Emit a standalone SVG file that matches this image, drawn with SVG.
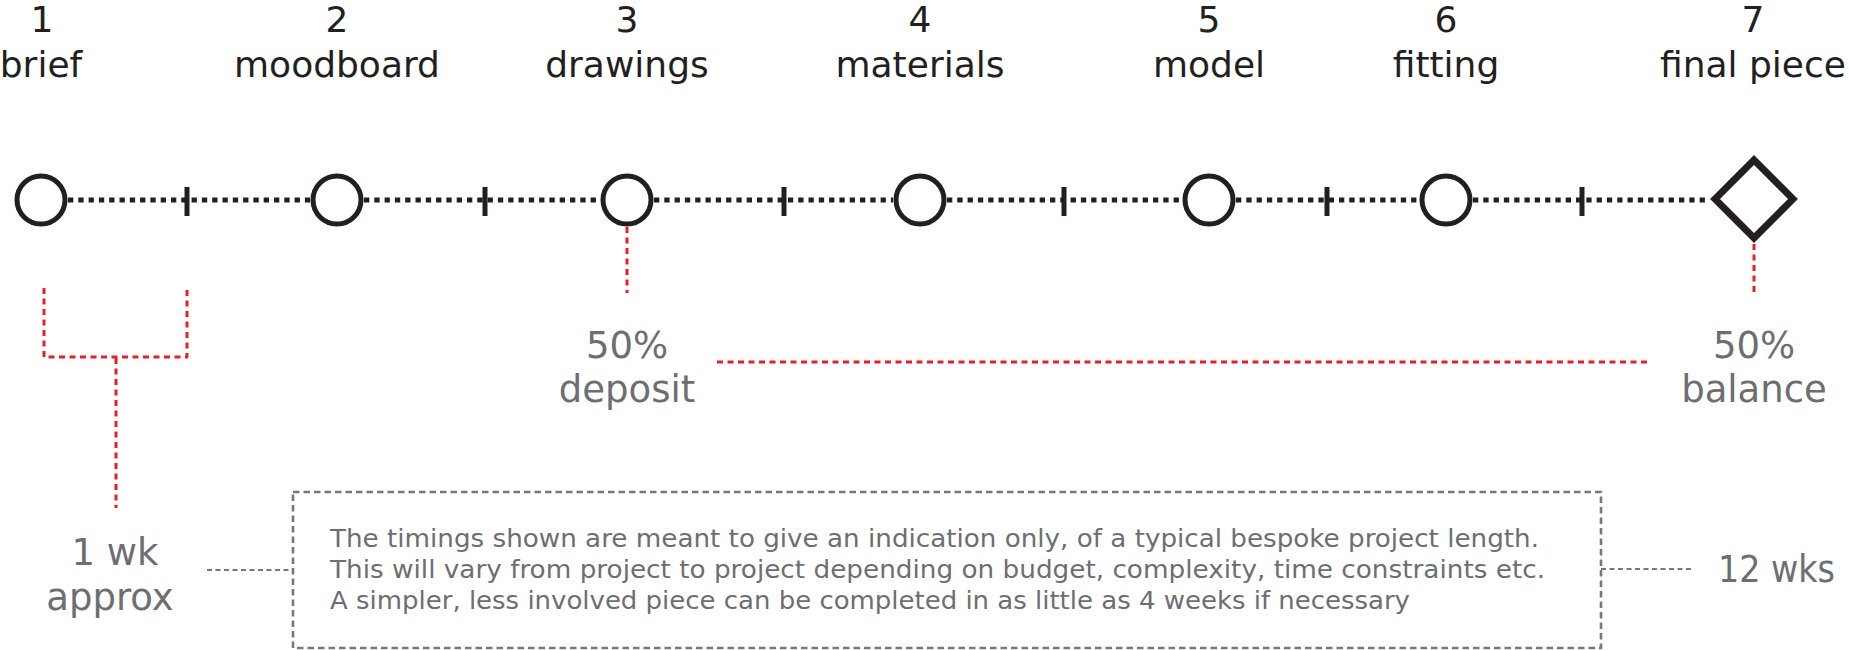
<svg xmlns="http://www.w3.org/2000/svg" width="1849" height="650" viewBox="0 0 1849 650">
<style>
  .lbl{font-family:"DejaVu Sans","Open Sans",sans-serif;font-size:36px;fill:#231f20;text-anchor:middle}
  .gry{font-family:"DejaVu Sans","Open Sans",sans-serif;font-size:37px;fill:#6d6e71;text-anchor:middle}
  .note{font-family:"DejaVu Sans","Open Sans",sans-serif;font-size:24px;fill:#6d6e71}
  .node{fill:#fff;stroke:#231f20;stroke-width:5}
  .dot{stroke:#231f20;stroke-width:5;stroke-dasharray:5.3 5;fill:none}
  .tick{stroke:#231f20;stroke-width:5}
  .red{stroke:#ed1c24;stroke-width:3;stroke-dasharray:6 4.5;fill:none}
  .gline{stroke:#77787b;stroke-width:2;stroke-dasharray:5 3.5;fill:none}
  .gbox{stroke:#77787b;stroke-width:2.6;stroke-dasharray:6.5 4;fill:none}
</style>
<rect width="1849" height="650" fill="#fff"/>
<g id="connectors">
  <line class="dot" x1="68" y1="200" x2="310" y2="200"/>
  <line class="dot" x1="364" y1="200" x2="600" y2="200"/>
  <line class="dot" x1="654" y1="200" x2="893" y2="200"/>
  <line class="dot" x1="947" y1="200" x2="1182" y2="200"/>
  <line class="dot" x1="1236" y1="200" x2="1418" y2="200"/>
  <line class="dot" x1="1473" y1="200" x2="1708" y2="200"/>
  <line class="tick" x1="187" y1="187" x2="187" y2="216"/>
  <line class="tick" x1="485" y1="187" x2="485" y2="216"/>
  <line class="tick" x1="784" y1="187" x2="784" y2="216"/>
  <line class="tick" x1="1064" y1="187" x2="1064" y2="216"/>
  <line class="tick" x1="1327" y1="187" x2="1327" y2="216"/>
  <line class="tick" x1="1582" y1="187" x2="1582" y2="216"/>
  <path class="red" d="M44 288 V357 H187 V288" stroke-linejoin="round"/>
  <line class="red" x1="116" y1="358" x2="116" y2="508"/>
  <line class="red" x1="627" y1="227" x2="627" y2="293"/>
  <line class="red" x1="717" y1="362" x2="1650" y2="362"/>
  <line class="red" x1="1754" y1="244" x2="1754" y2="293"/>
  <line class="gline" x1="207" y1="570" x2="293" y2="570"/>
  <line class="gline" x1="1601" y1="569" x2="1692" y2="569"/>
</g>
<g id="node1">
  <circle class="node" cx="41" cy="200" r="24"/>
  <text class="lbl" x="42" y="32">1</text>
  <text class="lbl" x="41" y="77">brief</text>
</g>
<g id="node2">
  <circle class="node" cx="337" cy="200" r="24"/>
  <text class="lbl" x="337" y="32">2</text>
  <text class="lbl" x="337" y="77">moodboard</text>
</g>
<g id="node3">
  <circle class="node" cx="627" cy="200" r="24"/>
  <text class="lbl" x="627" y="32">3</text>
  <text class="lbl" x="627" y="77">drawings</text>
</g>
<g id="node4">
  <circle class="node" cx="920" cy="200" r="24"/>
  <text class="lbl" x="920" y="32">4</text>
  <text class="lbl" x="920" y="77">materials</text>
</g>
<g id="node5">
  <circle class="node" cx="1209" cy="200" r="24"/>
  <text class="lbl" x="1209" y="32">5</text>
  <text class="lbl" x="1209" y="77">model</text>
</g>
<g id="node6">
  <circle class="node" cx="1446" cy="200" r="24"/>
  <text class="lbl" x="1446" y="32">6</text>
  <text class="lbl" x="1446" y="77">fitting</text>
</g>
<g id="node7">
  <path d="M1754 160 L1793 199 L1754 238 L1715 199 Z" fill="#fff" stroke="#231f20" stroke-width="7" stroke-linejoin="miter"/>
  <text class="lbl" x="1753" y="32">7</text>
  <text class="lbl" x="1753" y="77">final piece</text>
</g>
<g id="deposit">
  <text class="gry" x="627" y="358">50%</text>
  <text class="gry" x="627" y="402">deposit</text>
</g>
<g id="balance">
  <text class="gry" x="1754" y="358">50%</text>
  <text class="gry" x="1754" y="402">balance</text>
</g>
<g id="one-week">
  <text class="gry" x="115" y="565">1 wk</text>
  <text class="gry" x="110" y="610">approx</text>
</g>
<g id="twelve-weeks">
  <text class="gry" x="1718" y="582" style="text-anchor:start" textLength="117" lengthAdjust="spacingAndGlyphs">12 wks</text>
</g>
<g id="note">
  <rect class="gbox" x="293" y="492" width="1308" height="156"/>
  <text class="note" x="330" y="547" textLength="1209" lengthAdjust="spacingAndGlyphs">The timings shown are meant to give an indication only, of a typical bespoke project length.</text>
  <text class="note" x="330" y="578" textLength="1215" lengthAdjust="spacingAndGlyphs">This will vary from project to project depending on budget, complexity, time constraints etc.</text>
  <text class="note" x="330" y="609" textLength="1080" lengthAdjust="spacingAndGlyphs">A simpler, less involved piece can be completed in as little as 4 weeks if necessary</text>
</g>
</svg>
